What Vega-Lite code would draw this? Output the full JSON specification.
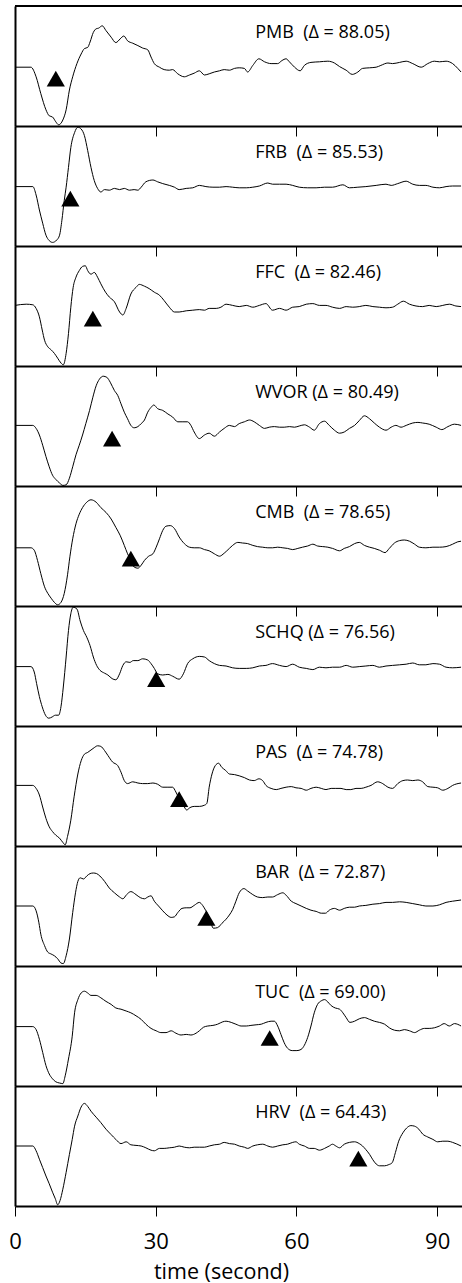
{
  "$schema": "https://vega.github.io/schema/vega-lite/v6.json",
  "background": "white",
  "padding": {"left": 8, "top": 5, "right": 0, "bottom": 35},
  "spacing": 0,
  "bounds": "flush",
  "datasets": {
    "st": [
      {"s": "PMB", "label": "PMB\u00a0 (Δ = 88.05)", "pick": 8.7},
      {"s": "FRB", "label": "FRB\u00a0 (Δ = 85.53)", "pick": 11.8},
      {"s": "FFC", "label": "FFC\u00a0 (Δ = 82.46)", "pick": 16.6},
      {"s": "WVOR", "label": "WVOR (Δ = 80.49)", "pick": 20.7},
      {"s": "CMB", "label": "CMB\u00a0 (Δ = 78.65)", "pick": 24.7},
      {"s": "SCHQ", "label": "SCHQ (Δ = 76.56)", "pick": 30.1},
      {"s": "PAS", "label": "PAS\u00a0 (Δ = 74.78)", "pick": 35.0},
      {"s": "BAR", "label": "BAR\u00a0 (Δ = 72.87)", "pick": 40.8},
      {"s": "TUC", "label": "TUC\u00a0 (Δ = 69.00)", "pick": 54.3},
      {"s": "HRV", "label": "HRV\u00a0 (Δ = 64.43)", "pick": 73.2}
    ],
    "PMB": [{"t":0,"a":-0.02},{"t":3.4,"a":-0.02},{"t":4.5,"a":-0.18},{"t":5.5,"a":-0.46},{"t":6.6,"a":-0.73},{"t":7.3,"a":-0.83},{"t":8.0,"a":-0.85},{"t":8.7,"a":-0.93},{"t":9.3,"a":-0.98},{"t":10.2,"a":-0.90},{"t":10.9,"a":-0.73},{"t":11.6,"a":-0.40},{"t":12.3,"a":-0.18},{"t":13.2,"a":0.04},{"t":14.1,"a":0.20},{"t":14.8,"a":0.29},{"t":15.5,"a":0.31},{"t":16.0,"a":0.40},{"t":16.7,"a":0.56},{"t":17.3,"a":0.62},{"t":17.8,"a":0.63},{"t":18.6,"a":0.67},{"t":19.4,"a":0.59},{"t":20.5,"a":0.48},{"t":21.5,"a":0.39},{"t":22.4,"a":0.45},{"t":23.2,"a":0.50},{"t":24.0,"a":0.42},{"t":25.1,"a":0.38},{"t":26.2,"a":0.34},{"t":27.2,"a":0.30},{"t":28.3,"a":0.27},{"t":29.0,"a":0.15},{"t":29.7,"a":0.04},{"t":30.8,"a":-0.02},{"t":31.8,"a":-0.06},{"t":32.9,"a":-0.07},{"t":33.6,"a":-0.06},{"t":34.7,"a":-0.13},{"t":36.1,"a":-0.18},{"t":37.2,"a":-0.15},{"t":38.2,"a":-0.12},{"t":39.3,"a":-0.08},{"t":40.4,"a":-0.15},{"t":41.4,"a":-0.13},{"t":42.5,"a":-0.10},{"t":43.6,"a":-0.08},{"t":44.6,"a":-0.06},{"t":45.7,"a":-0.07},{"t":46.8,"a":-0.04},{"t":47.8,"a":-0.03},{"t":48.9,"a":-0.04},{"t":49.6,"a":-0.10},{"t":50.7,"a":0.01},{"t":52.0,"a":0.12},{"t":53.2,"a":0.07},{"t":54.6,"a":0.04},{"t":56.0,"a":0.04},{"t":56.9,"a":0.09},{"t":57.8,"a":0.12},{"t":58.5,"a":0.07},{"t":59.6,"a":-0.02},{"t":60.8,"a":-0.08},{"t":61.7,"a":0.01},{"t":63.1,"a":0.06},{"t":64.9,"a":0.07},{"t":66.7,"a":0.08},{"t":68.1,"a":0.05},{"t":69.2,"a":-0.01},{"t":70.6,"a":-0.07},{"t":71.9,"a":-0.14},{"t":73.1,"a":-0.10},{"t":74.1,"a":-0.04},{"t":75.6,"a":-0.03},{"t":77.0,"a":-0.02},{"t":78.0,"a":0.01},{"t":79.5,"a":0.05},{"t":80.5,"a":0.04},{"t":82.0,"a":0.06},{"t":83.4,"a":0.08},{"t":84.8,"a":0.04},{"t":86.6,"a":-0.02},{"t":88.0,"a":0.04},{"t":89.4,"a":0.08},{"t":90.5,"a":0.07},{"t":91.9,"a":0.08},{"t":93.3,"a":0.04},{"t":94.4,"a":-0.04},{"t":95.1,"a":-0.10}],
    "FRB": [{"t":0,"a":-0.01},{"t":3.8,"a":-0.01},{"t":4.5,"a":-0.15},{"t":5.2,"a":-0.40},{"t":5.9,"a":-0.62},{"t":6.6,"a":-0.82},{"t":7.3,"a":-0.91},{"t":8.0,"a":-0.94},{"t":8.9,"a":-0.90},{"t":9.5,"a":-0.82},{"t":10.0,"a":-0.57},{"t":10.5,"a":-0.24},{"t":10.9,"a":-0.02},{"t":11.4,"a":0.31},{"t":11.9,"a":0.64},{"t":12.7,"a":0.89},{"t":13.4,"a":0.98},{"t":14.1,"a":0.95},{"t":14.8,"a":0.84},{"t":15.5,"a":0.59},{"t":16.2,"a":0.31},{"t":16.9,"a":0.09},{"t":17.6,"a":-0.04},{"t":18.3,"a":-0.10},{"t":19.1,"a":-0.06},{"t":20.1,"a":-0.07},{"t":21.2,"a":-0.04},{"t":22.3,"a":-0.06},{"t":23.3,"a":-0.04},{"t":24.4,"a":-0.07},{"t":25.4,"a":-0.06},{"t":26.2,"a":-0.07},{"t":26.9,"a":-0.02},{"t":27.9,"a":0.07},{"t":29.4,"a":0.10},{"t":30.4,"a":0.07},{"t":31.5,"a":0.04},{"t":32.9,"a":0.01},{"t":34.0,"a":-0.02},{"t":35.0,"a":-0.06},{"t":36.5,"a":-0.04},{"t":37.9,"a":-0.03},{"t":39.3,"a":0.01},{"t":40.7,"a":-0.01},{"t":42.2,"a":-0.02},{"t":43.6,"a":-0.02},{"t":45.0,"a":-0.01},{"t":46.4,"a":-0.02},{"t":47.8,"a":-0.03},{"t":49.3,"a":-0.03},{"t":50.7,"a":-0.02},{"t":52.1,"a":0.00},{"t":53.9,"a":0.05},{"t":54.9,"a":0.03},{"t":56.4,"a":0.03},{"t":57.8,"a":0.03},{"t":59.2,"a":0.01},{"t":60.6,"a":-0.02},{"t":62.4,"a":-0.03},{"t":64.2,"a":-0.03},{"t":66.0,"a":-0.02},{"t":67.7,"a":-0.02},{"t":69.9,"a":0.02},{"t":71.3,"a":-0.03},{"t":73.1,"a":-0.02},{"t":74.8,"a":-0.01},{"t":77.0,"a":0.01},{"t":79.1,"a":0.03},{"t":80.2,"a":0.01},{"t":81.6,"a":0.04},{"t":83.4,"a":0.08},{"t":84.8,"a":0.03},{"t":86.2,"a":0.01},{"t":87.6,"a":0.01},{"t":89.1,"a":-0.02},{"t":90.5,"a":-0.03},{"t":91.9,"a":-0.01},{"t":93.3,"a":0.00},{"t":95.1,"a":0.00}],
    "FFC": [{"t":0,"a":0.01},{"t":2.4,"a":0.03},{"t":3.8,"a":0.02},{"t":4.5,"a":-0.04},{"t":5.2,"a":-0.18},{"t":5.8,"a":-0.40},{"t":6.3,"a":-0.57},{"t":7.0,"a":-0.68},{"t":7.7,"a":-0.73},{"t":8.4,"a":-0.79},{"t":9.1,"a":-0.87},{"t":9.8,"a":-0.95},{"t":10.3,"a":-0.98},{"t":10.9,"a":-0.79},{"t":11.4,"a":-0.46},{"t":11.9,"a":-0.02},{"t":12.4,"a":0.31},{"t":13.0,"a":0.48},{"t":13.7,"a":0.59},{"t":14.4,"a":0.66},{"t":15.0,"a":0.67},{"t":15.5,"a":0.59},{"t":16.2,"a":0.53},{"t":16.9,"a":0.56},{"t":17.6,"a":0.48},{"t":18.3,"a":0.37},{"t":19.3,"a":0.23},{"t":20.1,"a":0.15},{"t":21.2,"a":0.07},{"t":22.3,"a":-0.10},{"t":23.0,"a":-0.15},{"t":23.7,"a":-0.04},{"t":24.7,"a":0.20},{"t":25.8,"a":0.31},{"t":26.5,"a":0.36},{"t":27.6,"a":0.33},{"t":28.6,"a":0.29},{"t":29.7,"a":0.23},{"t":30.8,"a":0.18},{"t":31.8,"a":0.09},{"t":32.9,"a":-0.02},{"t":34.0,"a":-0.10},{"t":35.0,"a":-0.10},{"t":36.5,"a":-0.08},{"t":37.9,"a":-0.07},{"t":39.3,"a":-0.06},{"t":40.4,"a":-0.07},{"t":41.4,"a":-0.04},{"t":42.9,"a":-0.04},{"t":43.9,"a":-0.02},{"t":45.0,"a":0.03},{"t":46.4,"a":0.01},{"t":47.8,"a":-0.01},{"t":49.3,"a":0.01},{"t":50.7,"a":-0.02},{"t":52.1,"a":0.01},{"t":53.5,"a":0.04},{"t":54.9,"a":-0.07},{"t":56.4,"a":-0.04},{"t":57.8,"a":-0.07},{"t":59.2,"a":-0.02},{"t":60.6,"a":-0.01},{"t":62.1,"a":0.03},{"t":63.5,"a":0.04},{"t":64.9,"a":0.01},{"t":66.3,"a":0.01},{"t":67.7,"a":-0.02},{"t":69.2,"a":-0.04},{"t":70.6,"a":-0.01},{"t":72.0,"a":-0.02},{"t":73.4,"a":-0.01},{"t":74.8,"a":0.01},{"t":76.3,"a":-0.01},{"t":77.7,"a":-0.02},{"t":79.1,"a":-0.03},{"t":80.5,"a":-0.02},{"t":81.6,"a":0.03},{"t":82.8,"a":0.08},{"t":84.1,"a":0.03},{"t":85.5,"a":0.00},{"t":86.9,"a":-0.01},{"t":88.3,"a":0.01},{"t":89.8,"a":-0.01},{"t":91.2,"a":0.01},{"t":92.6,"a":0.03},{"t":94.0,"a":0.00},{"t":95.1,"a":-0.01}],
    "WVOR": [{"t":0,"a":0.01},{"t":3.8,"a":0.01},{"t":4.5,"a":-0.04},{"t":5.2,"a":-0.15},{"t":5.9,"a":-0.32},{"t":6.6,"a":-0.51},{"t":7.3,"a":-0.68},{"t":8.0,"a":-0.82},{"t":8.7,"a":-0.89},{"t":9.5,"a":-0.95},{"t":10.2,"a":-0.99},{"t":10.9,"a":-0.98},{"t":11.6,"a":-0.87},{"t":12.3,"a":-0.68},{"t":13.0,"a":-0.48},{"t":13.7,"a":-0.32},{"t":14.4,"a":-0.15},{"t":15.1,"a":0.04},{"t":15.9,"a":0.26},{"t":16.6,"a":0.48},{"t":17.3,"a":0.67},{"t":18.0,"a":0.78},{"t":18.8,"a":0.83},{"t":19.6,"a":0.81},{"t":20.3,"a":0.73},{"t":21.2,"a":0.59},{"t":21.9,"a":0.51},{"t":22.6,"a":0.37},{"t":23.3,"a":0.23},{"t":24.0,"a":0.12},{"t":24.7,"a":0.01},{"t":25.4,"a":-0.03},{"t":26.2,"a":-0.01},{"t":26.9,"a":0.04},{"t":27.6,"a":0.10},{"t":28.3,"a":0.23},{"t":29.0,"a":0.31},{"t":29.6,"a":0.35},{"t":30.4,"a":0.29},{"t":31.5,"a":0.26},{"t":32.6,"a":0.20},{"t":33.6,"a":0.15},{"t":34.7,"a":0.07},{"t":35.8,"a":0.07},{"t":36.8,"a":0.07},{"t":37.5,"a":0.01},{"t":38.2,"a":-0.10},{"t":39.3,"a":-0.21},{"t":40.4,"a":-0.15},{"t":41.4,"a":-0.12},{"t":42.5,"a":-0.17},{"t":43.6,"a":-0.10},{"t":44.6,"a":-0.04},{"t":45.7,"a":0.01},{"t":46.8,"a":-0.01},{"t":47.8,"a":0.04},{"t":48.9,"a":0.07},{"t":50.0,"a":0.10},{"t":51.0,"a":0.07},{"t":52.1,"a":0.01},{"t":53.2,"a":-0.04},{"t":54.2,"a":-0.02},{"t":55.3,"a":-0.01},{"t":56.4,"a":-0.02},{"t":57.4,"a":-0.02},{"t":58.5,"a":-0.01},{"t":59.6,"a":-0.02},{"t":60.6,"a":0.00},{"t":61.7,"a":0.02},{"t":62.8,"a":-0.02},{"t":63.8,"a":-0.07},{"t":64.9,"a":0.04},{"t":66.0,"a":0.08},{"t":67.0,"a":0.01},{"t":68.1,"a":-0.07},{"t":69.2,"a":-0.12},{"t":70.2,"a":-0.10},{"t":71.3,"a":-0.04},{"t":72.4,"a":0.01},{"t":73.4,"a":0.09},{"t":74.5,"a":0.17},{"t":75.6,"a":0.12},{"t":76.6,"a":0.05},{"t":77.7,"a":-0.02},{"t":79.1,"a":-0.07},{"t":80.2,"a":-0.02},{"t":81.2,"a":0.01},{"t":82.3,"a":-0.02},{"t":83.4,"a":0.01},{"t":84.8,"a":0.05},{"t":85.9,"a":0.06},{"t":86.9,"a":0.05},{"t":88.3,"a":0.03},{"t":89.8,"a":-0.02},{"t":91.0,"a":-0.06},{"t":92.3,"a":-0.01},{"t":93.7,"a":0.03},{"t":95.1,"a":0.01}],
    "CMB": [{"t":0,"a":-0.03},{"t":3.4,"a":-0.03},{"t":4.1,"a":-0.07},{"t":4.8,"a":-0.24},{"t":5.5,"a":-0.46},{"t":6.3,"a":-0.68},{"t":7.0,"a":-0.79},{"t":7.7,"a":-0.87},{"t":8.4,"a":-0.94},{"t":9.1,"a":-0.98},{"t":9.8,"a":-0.94},{"t":10.5,"a":-0.79},{"t":11.2,"a":-0.48},{"t":11.7,"a":-0.18},{"t":12.3,"a":0.12},{"t":13.0,"a":0.37},{"t":13.7,"a":0.53},{"t":14.4,"a":0.64},{"t":15.3,"a":0.73},{"t":16.2,"a":0.77},{"t":17.3,"a":0.73},{"t":18.3,"a":0.64},{"t":19.4,"a":0.56},{"t":20.5,"a":0.45},{"t":21.5,"a":0.31},{"t":22.4,"a":0.18},{"t":23.3,"a":0.01},{"t":24.0,"a":-0.13},{"t":24.7,"a":-0.24},{"t":25.4,"a":-0.35},{"t":26.2,"a":-0.37},{"t":26.9,"a":-0.32},{"t":27.6,"a":-0.24},{"t":28.5,"a":-0.17},{"t":29.4,"a":-0.13},{"t":30.1,"a":-0.02},{"t":30.8,"a":0.12},{"t":31.5,"a":0.26},{"t":32.2,"a":0.33},{"t":33.1,"a":0.34},{"t":34.0,"a":0.29},{"t":35.0,"a":0.15},{"t":36.1,"a":0.04},{"t":37.2,"a":-0.02},{"t":38.2,"a":-0.03},{"t":39.3,"a":-0.03},{"t":40.4,"a":-0.06},{"t":41.4,"a":-0.08},{"t":42.5,"a":-0.13},{"t":43.6,"a":-0.17},{"t":44.6,"a":-0.12},{"t":45.7,"a":-0.04},{"t":46.4,"a":0.01},{"t":47.5,"a":0.06},{"t":48.5,"a":0.05},{"t":49.6,"a":0.04},{"t":50.7,"a":0.01},{"t":51.7,"a":-0.01},{"t":52.8,"a":-0.02},{"t":53.9,"a":-0.03},{"t":54.9,"a":-0.03},{"t":56.0,"a":-0.02},{"t":57.1,"a":-0.03},{"t":58.1,"a":-0.04},{"t":59.2,"a":-0.06},{"t":60.3,"a":-0.04},{"t":61.3,"a":-0.02},{"t":62.4,"a":0.00},{"t":63.5,"a":0.03},{"t":64.5,"a":0.00},{"t":65.6,"a":-0.01},{"t":66.7,"a":-0.02},{"t":67.7,"a":-0.04},{"t":69.2,"a":-0.08},{"t":70.2,"a":-0.04},{"t":71.3,"a":-0.01},{"t":72.4,"a":0.04},{"t":73.4,"a":0.06},{"t":74.5,"a":0.01},{"t":75.6,"a":-0.02},{"t":76.6,"a":-0.04},{"t":77.7,"a":-0.07},{"t":78.9,"a":-0.11},{"t":79.8,"a":-0.04},{"t":80.9,"a":0.05},{"t":82.0,"a":0.09},{"t":83.0,"a":0.10},{"t":84.1,"a":0.08},{"t":85.2,"a":0.03},{"t":86.2,"a":-0.02},{"t":87.6,"a":-0.03},{"t":89.1,"a":-0.02},{"t":90.5,"a":-0.02},{"t":91.9,"a":-0.01},{"t":93.3,"a":0.03},{"t":94.4,"a":0.07},{"t":95.1,"a":0.08}],
    "SCHQ": [{"t":0,"a":-0.01},{"t":3.4,"a":-0.01},{"t":4.1,"a":-0.10},{"t":4.6,"a":-0.29},{"t":5.2,"a":-0.51},{"t":5.8,"a":-0.68},{"t":6.5,"a":-0.82},{"t":7.2,"a":-0.87},{"t":7.9,"a":-0.85},{"t":8.6,"a":-0.82},{"t":9.3,"a":-0.82},{"t":9.8,"a":-0.68},{"t":10.3,"a":-0.35},{"t":10.9,"a":0.15},{"t":11.4,"a":0.59},{"t":11.9,"a":0.87},{"t":12.4,"a":0.98},{"t":13.2,"a":0.95},{"t":13.9,"a":0.75},{"t":14.6,"a":0.59},{"t":15.3,"a":0.48},{"t":16.0,"a":0.34},{"t":16.7,"a":0.15},{"t":17.4,"a":0.01},{"t":18.1,"a":-0.07},{"t":19.1,"a":-0.12},{"t":19.8,"a":-0.15},{"t":20.7,"a":-0.21},{"t":21.5,"a":-0.23},{"t":22.3,"a":-0.13},{"t":23.0,"a":0.01},{"t":23.7,"a":0.07},{"t":24.5,"a":0.06},{"t":25.2,"a":0.09},{"t":26.2,"a":0.09},{"t":27.2,"a":0.12},{"t":28.3,"a":0.10},{"t":29.0,"a":0.04},{"t":29.7,"a":-0.04},{"t":30.4,"a":-0.13},{"t":31.5,"a":-0.15},{"t":32.6,"a":-0.14},{"t":33.6,"a":-0.17},{"t":35.0,"a":-0.22},{"t":35.9,"a":-0.13},{"t":36.8,"a":0.04},{"t":37.9,"a":0.12},{"t":39.3,"a":0.16},{"t":40.4,"a":0.15},{"t":41.4,"a":0.09},{"t":42.5,"a":0.04},{"t":43.6,"a":0.01},{"t":45.0,"a":0.00},{"t":46.4,"a":-0.03},{"t":47.8,"a":-0.04},{"t":49.3,"a":-0.04},{"t":50.7,"a":-0.03},{"t":52.1,"a":0.00},{"t":53.5,"a":0.01},{"t":54.9,"a":0.04},{"t":56.4,"a":0.01},{"t":57.8,"a":-0.01},{"t":59.2,"a":0.03},{"t":60.6,"a":-0.02},{"t":62.1,"a":-0.04},{"t":63.5,"a":-0.06},{"t":64.9,"a":-0.02},{"t":66.3,"a":-0.03},{"t":67.7,"a":-0.02},{"t":69.2,"a":-0.02},{"t":70.6,"a":0.01},{"t":72.0,"a":-0.02},{"t":73.4,"a":-0.01},{"t":74.8,"a":0.00},{"t":76.3,"a":0.01},{"t":77.7,"a":-0.02},{"t":79.1,"a":0.00},{"t":80.5,"a":0.01},{"t":82.0,"a":0.02},{"t":83.4,"a":0.03},{"t":84.8,"a":0.05},{"t":86.2,"a":0.02},{"t":87.6,"a":0.02},{"t":89.1,"a":0.04},{"t":90.5,"a":0.03},{"t":91.9,"a":-0.02},{"t":93.3,"a":-0.03},{"t":95.1,"a":-0.02}],
    "PAS": [{"t":0,"a":0.01},{"t":3.8,"a":0.01},{"t":4.5,"a":-0.04},{"t":5.2,"a":-0.15},{"t":5.9,"a":-0.35},{"t":6.6,"a":-0.54},{"t":7.3,"a":-0.68},{"t":8.0,"a":-0.76},{"t":8.7,"a":-0.82},{"t":9.5,"a":-0.87},{"t":10.2,"a":-0.94},{"t":10.7,"a":-0.98},{"t":11.2,"a":-0.84},{"t":11.9,"a":-0.57},{"t":12.6,"a":-0.18},{"t":13.4,"a":0.20},{"t":14.1,"a":0.42},{"t":14.8,"a":0.53},{"t":15.5,"a":0.56},{"t":16.2,"a":0.60},{"t":16.9,"a":0.64},{"t":17.6,"a":0.67},{"t":18.3,"a":0.66},{"t":19.1,"a":0.59},{"t":19.8,"a":0.51},{"t":20.8,"a":0.40},{"t":21.9,"a":0.34},{"t":22.6,"a":0.23},{"t":23.3,"a":0.09},{"t":24.0,"a":0.04},{"t":25.1,"a":0.07},{"t":26.2,"a":0.05},{"t":27.2,"a":0.04},{"t":28.3,"a":0.04},{"t":29.4,"a":0.05},{"t":30.4,"a":0.03},{"t":31.5,"a":-0.02},{"t":32.6,"a":-0.02},{"t":33.6,"a":-0.02},{"t":34.3,"a":-0.10},{"t":35.0,"a":-0.21},{"t":35.9,"a":-0.32},{"t":36.6,"a":-0.40},{"t":37.3,"a":-0.36},{"t":38.2,"a":-0.34},{"t":39.3,"a":-0.34},{"t":40.4,"a":-0.32},{"t":40.9,"a":-0.29},{"t":41.4,"a":-0.02},{"t":42.0,"a":0.20},{"t":42.7,"a":0.34},{"t":43.4,"a":0.38},{"t":44.1,"a":0.31},{"t":44.9,"a":0.26},{"t":45.7,"a":0.20},{"t":46.8,"a":0.19},{"t":47.8,"a":0.17},{"t":48.9,"a":0.14},{"t":50.0,"a":0.10},{"t":51.0,"a":0.09},{"t":52.0,"a":0.12},{"t":52.8,"a":0.09},{"t":53.5,"a":0.01},{"t":54.6,"a":-0.04},{"t":55.7,"a":-0.06},{"t":56.7,"a":-0.04},{"t":57.8,"a":-0.02},{"t":58.9,"a":-0.01},{"t":59.9,"a":-0.03},{"t":61.0,"a":-0.04},{"t":62.1,"a":-0.07},{"t":63.1,"a":-0.04},{"t":64.2,"a":-0.02},{"t":65.3,"a":-0.04},{"t":66.3,"a":-0.06},{"t":67.4,"a":-0.04},{"t":68.4,"a":-0.04},{"t":69.5,"a":-0.04},{"t":70.6,"a":-0.06},{"t":71.6,"a":-0.06},{"t":72.7,"a":-0.04},{"t":73.8,"a":-0.04},{"t":74.8,"a":-0.02},{"t":75.9,"a":0.01},{"t":77.3,"a":0.07},{"t":78.4,"a":0.04},{"t":79.5,"a":-0.02},{"t":80.5,"a":-0.04},{"t":81.6,"a":0.04},{"t":82.7,"a":0.09},{"t":83.7,"a":0.10},{"t":84.8,"a":0.09},{"t":85.9,"a":0.10},{"t":86.9,"a":0.07},{"t":88.0,"a":-0.01},{"t":89.1,"a":-0.02},{"t":90.1,"a":-0.03},{"t":91.2,"a":-0.07},{"t":92.3,"a":-0.04},{"t":93.3,"a":0.01},{"t":95.1,"a":0.05}],
    "BAR": [{"t":0,"a":0.00},{"t":3.8,"a":0.00},{"t":4.5,"a":-0.08},{"t":5.1,"a":-0.28},{"t":5.5,"a":-0.47},{"t":6.3,"a":-0.66},{"t":7.0,"a":-0.77},{"t":7.7,"a":-0.80},{"t":8.4,"a":-0.83},{"t":9.1,"a":-0.88},{"t":9.8,"a":-0.95},{"t":10.3,"a":-0.96},{"t":10.9,"a":-0.83},{"t":11.6,"a":-0.55},{"t":12.3,"a":-0.11},{"t":12.9,"a":0.22},{"t":13.4,"a":0.41},{"t":13.9,"a":0.47},{"t":14.6,"a":0.45},{"t":15.3,"a":0.50},{"t":16.0,"a":0.54},{"t":16.7,"a":0.55},{"t":17.4,"a":0.54},{"t":18.1,"a":0.50},{"t":19.1,"a":0.41},{"t":20.1,"a":0.30},{"t":21.2,"a":0.22},{"t":22.3,"a":0.15},{"t":23.0,"a":0.12},{"t":23.8,"a":0.19},{"t":24.7,"a":0.24},{"t":25.8,"a":0.19},{"t":26.7,"a":0.14},{"t":27.6,"a":0.12},{"t":28.3,"a":0.15},{"t":29.0,"a":0.17},{"t":29.7,"a":0.08},{"t":30.6,"a":0.00},{"t":31.5,"a":-0.08},{"t":32.4,"a":-0.15},{"t":33.3,"a":-0.19},{"t":34.0,"a":-0.18},{"t":34.7,"a":-0.11},{"t":35.6,"a":-0.04},{"t":36.5,"a":-0.03},{"t":37.3,"a":-0.03},{"t":38.2,"a":0.01},{"t":39.3,"a":0.06},{"t":40.0,"a":0.01},{"t":40.7,"a":-0.08},{"t":41.4,"a":-0.19},{"t":42.3,"a":-0.37},{"t":43.2,"a":-0.36},{"t":44.1,"a":-0.29},{"t":45.0,"a":-0.22},{"t":45.7,"a":-0.15},{"t":46.4,"a":-0.06},{"t":47.1,"a":0.08},{"t":47.8,"a":0.22},{"t":48.8,"a":0.29},{"t":49.6,"a":0.25},{"t":50.7,"a":0.19},{"t":51.7,"a":0.15},{"t":52.8,"a":0.14},{"t":53.9,"a":0.15},{"t":54.9,"a":0.15},{"t":56.0,"a":0.19},{"t":57.1,"a":0.22},{"t":57.8,"a":0.18},{"t":58.9,"a":0.08},{"t":59.9,"a":0.04},{"t":61.0,"a":0.00},{"t":62.1,"a":-0.04},{"t":63.1,"a":-0.07},{"t":64.2,"a":-0.09},{"t":65.3,"a":-0.12},{"t":66.2,"a":-0.12},{"t":67.0,"a":-0.07},{"t":68.1,"a":-0.04},{"t":69.2,"a":-0.07},{"t":70.2,"a":-0.04},{"t":71.3,"a":-0.02},{"t":72.4,"a":-0.02},{"t":73.4,"a":0.00},{"t":74.8,"a":0.01},{"t":76.3,"a":0.03},{"t":77.7,"a":0.04},{"t":79.1,"a":0.06},{"t":80.5,"a":0.06},{"t":82.0,"a":0.07},{"t":83.4,"a":0.06},{"t":84.8,"a":0.04},{"t":86.2,"a":0.02},{"t":87.6,"a":0.00},{"t":89.1,"a":0.00},{"t":90.5,"a":0.02},{"t":91.9,"a":0.06},{"t":93.3,"a":0.08},{"t":95.1,"a":0.10}],
    "TUC": [{"t":0,"a":-0.01},{"t":3.8,"a":-0.01},{"t":4.5,"a":-0.06},{"t":5.2,"a":-0.22},{"t":5.9,"a":-0.44},{"t":6.6,"a":-0.66},{"t":7.3,"a":-0.80},{"t":8.0,"a":-0.88},{"t":8.7,"a":-0.93},{"t":9.5,"a":-0.95},{"t":10.2,"a":-0.96},{"t":10.7,"a":-0.83},{"t":11.4,"a":-0.55},{"t":12.2,"a":-0.17},{"t":12.7,"a":0.22},{"t":13.4,"a":0.44},{"t":14.1,"a":0.55},{"t":14.8,"a":0.58},{"t":15.5,"a":0.55},{"t":16.2,"a":0.51},{"t":17.3,"a":0.51},{"t":18.3,"a":0.47},{"t":19.4,"a":0.41},{"t":20.5,"a":0.36},{"t":21.5,"a":0.30},{"t":22.6,"a":0.28},{"t":23.7,"a":0.25},{"t":24.7,"a":0.22},{"t":25.8,"a":0.17},{"t":26.9,"a":0.11},{"t":27.9,"a":0.03},{"t":29.0,"a":-0.04},{"t":30.1,"a":-0.08},{"t":31.1,"a":-0.11},{"t":32.2,"a":-0.11},{"t":33.3,"a":-0.08},{"t":34.3,"a":-0.12},{"t":35.4,"a":-0.15},{"t":36.5,"a":-0.14},{"t":37.5,"a":-0.15},{"t":38.6,"a":-0.12},{"t":39.3,"a":-0.08},{"t":40.2,"a":-0.02},{"t":41.1,"a":0.00},{"t":42.2,"a":0.01},{"t":43.2,"a":0.03},{"t":44.3,"a":0.07},{"t":45.0,"a":0.08},{"t":46.1,"a":0.06},{"t":47.1,"a":0.03},{"t":48.2,"a":0.00},{"t":49.3,"a":0.00},{"t":50.3,"a":0.01},{"t":51.4,"a":0.02},{"t":52.5,"a":0.03},{"t":53.5,"a":0.06},{"t":54.6,"a":0.08},{"t":55.3,"a":0.08},{"t":56.0,"a":0.00},{"t":56.7,"a":-0.14},{"t":57.4,"a":-0.28},{"t":58.1,"a":-0.37},{"t":59.1,"a":-0.41},{"t":60.1,"a":-0.41},{"t":61.0,"a":-0.39},{"t":61.7,"a":-0.32},{"t":62.4,"a":-0.19},{"t":63.1,"a":0.00},{"t":63.8,"a":0.22},{"t":64.5,"a":0.36},{"t":65.3,"a":0.42},{"t":66.0,"a":0.44},{"t":66.7,"a":0.40},{"t":67.4,"a":0.34},{"t":68.3,"a":0.30},{"t":69.2,"a":0.28},{"t":69.9,"a":0.22},{"t":70.6,"a":0.14},{"t":71.4,"a":0.06},{"t":72.4,"a":0.08},{"t":73.4,"a":0.12},{"t":74.5,"a":0.14},{"t":75.6,"a":0.11},{"t":76.6,"a":0.08},{"t":77.7,"a":0.06},{"t":78.8,"a":0.03},{"t":79.8,"a":-0.03},{"t":80.9,"a":-0.07},{"t":82.0,"a":-0.08},{"t":83.0,"a":-0.06},{"t":84.1,"a":-0.08},{"t":85.2,"a":-0.11},{"t":86.2,"a":-0.07},{"t":87.3,"a":-0.04},{"t":88.3,"a":-0.04},{"t":89.4,"a":-0.03},{"t":90.5,"a":0.00},{"t":91.5,"a":0.04},{"t":92.6,"a":0.00},{"t":93.7,"a":0.04},{"t":95.1,"a":0.00}],
    "HRV": [{"t":0,"a":0.00},{"t":3.8,"a":0.00},{"t":4.5,"a":-0.08},{"t":5.2,"a":-0.22},{"t":5.9,"a":-0.36},{"t":6.6,"a":-0.50},{"t":7.3,"a":-0.63},{"t":8.0,"a":-0.77},{"t":8.6,"a":-0.88},{"t":9.1,"a":-0.98},{"t":9.6,"a":-0.91},{"t":10.2,"a":-0.72},{"t":10.9,"a":-0.44},{"t":11.6,"a":-0.14},{"t":12.2,"a":0.11},{"t":12.7,"a":0.33},{"t":13.4,"a":0.50},{"t":14.1,"a":0.65},{"t":14.8,"a":0.71},{"t":15.5,"a":0.66},{"t":16.2,"a":0.58},{"t":17.3,"a":0.48},{"t":18.3,"a":0.39},{"t":19.4,"a":0.28},{"t":20.5,"a":0.19},{"t":21.5,"a":0.11},{"t":22.6,"a":0.04},{"t":23.7,"a":0.07},{"t":24.7,"a":0.02},{"t":25.8,"a":0.01},{"t":26.9,"a":0.00},{"t":27.9,"a":-0.03},{"t":29.0,"a":-0.07},{"t":29.7,"a":-0.08},{"t":30.8,"a":-0.04},{"t":31.8,"a":-0.04},{"t":32.9,"a":-0.03},{"t":34.0,"a":-0.02},{"t":35.0,"a":0.00},{"t":36.1,"a":-0.02},{"t":37.2,"a":-0.03},{"t":38.2,"a":-0.02},{"t":39.3,"a":-0.02},{"t":40.4,"a":-0.02},{"t":41.4,"a":0.00},{"t":42.5,"a":0.02},{"t":43.6,"a":0.03},{"t":44.6,"a":0.06},{"t":45.7,"a":0.04},{"t":46.8,"a":0.03},{"t":47.8,"a":0.00},{"t":48.9,"a":-0.02},{"t":49.6,"a":-0.04},{"t":50.7,"a":0.00},{"t":51.7,"a":0.02},{"t":52.8,"a":0.03},{"t":53.9,"a":0.00},{"t":54.9,"a":-0.02},{"t":56.0,"a":0.00},{"t":57.1,"a":0.02},{"t":58.1,"a":0.03},{"t":59.2,"a":0.06},{"t":59.9,"a":0.07},{"t":60.6,"a":0.03},{"t":61.7,"a":0.00},{"t":62.8,"a":-0.04},{"t":63.8,"a":-0.04},{"t":64.9,"a":-0.07},{"t":66.0,"a":-0.04},{"t":67.0,"a":0.00},{"t":67.7,"a":0.03},{"t":68.4,"a":0.00},{"t":69.2,"a":-0.03},{"t":70.2,"a":0.03},{"t":71.3,"a":0.06},{"t":72.4,"a":0.07},{"t":73.4,"a":0.04},{"t":74.1,"a":0.00},{"t":74.8,"a":-0.06},{"t":75.6,"a":-0.14},{"t":76.3,"a":-0.23},{"t":77.0,"a":-0.30},{"t":77.7,"a":-0.33},{"t":78.8,"a":-0.33},{"t":79.7,"a":-0.31},{"t":80.4,"a":-0.28},{"t":81.1,"a":-0.11},{"t":81.8,"a":0.08},{"t":82.7,"a":0.22},{"t":83.5,"a":0.30},{"t":84.4,"a":0.34},{"t":85.2,"a":0.33},{"t":86.1,"a":0.28},{"t":86.9,"a":0.20},{"t":88.0,"a":0.15},{"t":89.1,"a":0.11},{"t":90.1,"a":0.07},{"t":91.2,"a":0.08},{"t":92.3,"a":0.08},{"t":93.3,"a":0.06},{"t":95.1,"a":0.00}]
  },
  "vconcat": [
    {"width": 447, "height": 120, "layer": [
      {"data": {"values": [{}]}, "mark": "rule", "encoding": {"y": {"datum": 1, "type": "quantitative", "title": null}}},
      {"data": {"name": "PMB"}, "mark": "line", "encoding": {"x": {"field": "t", "type": "quantitative", "scale": {"domain": [0, 95.3], "nice": false, "zero": false}, "axis": {"values": [0, 30, 60, 90], "title": null}}, "y": {"field": "a", "type": "quantitative", "scale": {"domain": [-1, 1], "nice": false}, "axis": {"title": null}}}},
      {"data": {"name": "st"}, "transform": [{"filter": {"field": "s", "equal": "PMB"}}], "mark": "point", "encoding": {"x": {"field": "pick", "type": "quantitative", "title": null}, "y": {"datum": -0.21, "type": "quantitative", "title": null}}},
      {"data": {"name": "st"}, "transform": [{"filter": {"field": "s", "equal": "PMB"}}], "mark": "text", "encoding": {"x": {"datum": 51.2, "type": "quantitative", "title": null}, "y": {"datum": 0.47, "type": "quantitative", "title": null}, "text": {"field": "label"}}}
    ]},
    {"width": 447, "height": 120, "layer": [
      {"data": {"name": "FRB"}, "mark": "line", "encoding": {"x": {"field": "t", "type": "quantitative", "scale": {"domain": [0, 95.3], "nice": false, "zero": false}, "axis": {"values": [0, 30, 60, 90], "title": null}}, "y": {"field": "a", "type": "quantitative", "scale": {"domain": [-1, 1], "nice": false}, "axis": {"title": null}}}},
      {"data": {"name": "st"}, "transform": [{"filter": {"field": "s", "equal": "FRB"}}], "mark": "point", "encoding": {"x": {"field": "pick", "type": "quantitative", "title": null}, "y": {"datum": -0.21, "type": "quantitative", "title": null}}},
      {"data": {"name": "st"}, "transform": [{"filter": {"field": "s", "equal": "FRB"}}], "mark": "text", "encoding": {"x": {"datum": 51.2, "type": "quantitative", "title": null}, "y": {"datum": 0.47, "type": "quantitative", "title": null}, "text": {"field": "label"}}}
    ]},
    {"width": 447, "height": 120, "layer": [
      {"data": {"name": "FFC"}, "mark": "line", "encoding": {"x": {"field": "t", "type": "quantitative", "scale": {"domain": [0, 95.3], "nice": false, "zero": false}, "axis": {"values": [0, 30, 60, 90], "title": null}}, "y": {"field": "a", "type": "quantitative", "scale": {"domain": [-1, 1], "nice": false}, "axis": {"title": null}}}},
      {"data": {"name": "st"}, "transform": [{"filter": {"field": "s", "equal": "FFC"}}], "mark": "point", "encoding": {"x": {"field": "pick", "type": "quantitative", "title": null}, "y": {"datum": -0.21, "type": "quantitative", "title": null}}},
      {"data": {"name": "st"}, "transform": [{"filter": {"field": "s", "equal": "FFC"}}], "mark": "text", "encoding": {"x": {"datum": 51.2, "type": "quantitative", "title": null}, "y": {"datum": 0.47, "type": "quantitative", "title": null}, "text": {"field": "label"}}}
    ]},
    {"width": 447, "height": 120, "layer": [
      {"data": {"name": "WVOR"}, "mark": "line", "encoding": {"x": {"field": "t", "type": "quantitative", "scale": {"domain": [0, 95.3], "nice": false, "zero": false}, "axis": {"values": [0, 30, 60, 90], "title": null}}, "y": {"field": "a", "type": "quantitative", "scale": {"domain": [-1, 1], "nice": false}, "axis": {"title": null}}}},
      {"data": {"name": "st"}, "transform": [{"filter": {"field": "s", "equal": "WVOR"}}], "mark": "point", "encoding": {"x": {"field": "pick", "type": "quantitative", "title": null}, "y": {"datum": -0.21, "type": "quantitative", "title": null}}},
      {"data": {"name": "st"}, "transform": [{"filter": {"field": "s", "equal": "WVOR"}}], "mark": "text", "encoding": {"x": {"datum": 51.2, "type": "quantitative", "title": null}, "y": {"datum": 0.47, "type": "quantitative", "title": null}, "text": {"field": "label"}}}
    ]},
    {"width": 447, "height": 120, "layer": [
      {"data": {"name": "CMB"}, "mark": "line", "encoding": {"x": {"field": "t", "type": "quantitative", "scale": {"domain": [0, 95.3], "nice": false, "zero": false}, "axis": {"values": [0, 30, 60, 90], "title": null}}, "y": {"field": "a", "type": "quantitative", "scale": {"domain": [-1, 1], "nice": false}, "axis": {"title": null}}}},
      {"data": {"name": "st"}, "transform": [{"filter": {"field": "s", "equal": "CMB"}}], "mark": "point", "encoding": {"x": {"field": "pick", "type": "quantitative", "title": null}, "y": {"datum": -0.21, "type": "quantitative", "title": null}}},
      {"data": {"name": "st"}, "transform": [{"filter": {"field": "s", "equal": "CMB"}}], "mark": "text", "encoding": {"x": {"datum": 51.2, "type": "quantitative", "title": null}, "y": {"datum": 0.47, "type": "quantitative", "title": null}, "text": {"field": "label"}}}
    ]},
    {"width": 447, "height": 120, "layer": [
      {"data": {"name": "SCHQ"}, "mark": "line", "encoding": {"x": {"field": "t", "type": "quantitative", "scale": {"domain": [0, 95.3], "nice": false, "zero": false}, "axis": {"values": [0, 30, 60, 90], "title": null}}, "y": {"field": "a", "type": "quantitative", "scale": {"domain": [-1, 1], "nice": false}, "axis": {"title": null}}}},
      {"data": {"name": "st"}, "transform": [{"filter": {"field": "s", "equal": "SCHQ"}}], "mark": "point", "encoding": {"x": {"field": "pick", "type": "quantitative", "title": null}, "y": {"datum": -0.22, "type": "quantitative", "title": null}}},
      {"data": {"name": "st"}, "transform": [{"filter": {"field": "s", "equal": "SCHQ"}}], "mark": "text", "encoding": {"x": {"datum": 51.2, "type": "quantitative", "title": null}, "y": {"datum": 0.47, "type": "quantitative", "title": null}, "text": {"field": "label"}}}
    ]},
    {"width": 447, "height": 120, "layer": [
      {"data": {"name": "PAS"}, "mark": "line", "encoding": {"x": {"field": "t", "type": "quantitative", "scale": {"domain": [0, 95.3], "nice": false, "zero": false}, "axis": {"values": [0, 30, 60, 90], "title": null}}, "y": {"field": "a", "type": "quantitative", "scale": {"domain": [-1, 1], "nice": false}, "axis": {"title": null}}}},
      {"data": {"name": "st"}, "transform": [{"filter": {"field": "s", "equal": "PAS"}}], "mark": "point", "encoding": {"x": {"field": "pick", "type": "quantitative", "title": null}, "y": {"datum": -0.22, "type": "quantitative", "title": null}}},
      {"data": {"name": "st"}, "transform": [{"filter": {"field": "s", "equal": "PAS"}}], "mark": "text", "encoding": {"x": {"datum": 51.2, "type": "quantitative", "title": null}, "y": {"datum": 0.47, "type": "quantitative", "title": null}, "text": {"field": "label"}}}
    ]},
    {"width": 447, "height": 120, "layer": [
      {"data": {"name": "BAR"}, "mark": "line", "encoding": {"x": {"field": "t", "type": "quantitative", "scale": {"domain": [0, 95.3], "nice": false, "zero": false}, "axis": {"values": [0, 30, 60, 90], "title": null}}, "y": {"field": "a", "type": "quantitative", "scale": {"domain": [-1, 1], "nice": false}, "axis": {"title": null}}}},
      {"data": {"name": "st"}, "transform": [{"filter": {"field": "s", "equal": "BAR"}}], "mark": "point", "encoding": {"x": {"field": "pick", "type": "quantitative", "title": null}, "y": {"datum": -0.2, "type": "quantitative", "title": null}}},
      {"data": {"name": "st"}, "transform": [{"filter": {"field": "s", "equal": "BAR"}}], "mark": "text", "encoding": {"x": {"datum": 51.2, "type": "quantitative", "title": null}, "y": {"datum": 0.47, "type": "quantitative", "title": null}, "text": {"field": "label"}}}
    ]},
    {"width": 447, "height": 120, "layer": [
      {"data": {"name": "TUC"}, "mark": "line", "encoding": {"x": {"field": "t", "type": "quantitative", "scale": {"domain": [0, 95.3], "nice": false, "zero": false}, "axis": {"values": [0, 30, 60, 90], "title": null}}, "y": {"field": "a", "type": "quantitative", "scale": {"domain": [-1, 1], "nice": false}, "axis": {"title": null}}}},
      {"data": {"name": "st"}, "transform": [{"filter": {"field": "s", "equal": "TUC"}}], "mark": "point", "encoding": {"x": {"field": "pick", "type": "quantitative", "title": null}, "y": {"datum": -0.2, "type": "quantitative", "title": null}}},
      {"data": {"name": "st"}, "transform": [{"filter": {"field": "s", "equal": "TUC"}}], "mark": "text", "encoding": {"x": {"datum": 51.2, "type": "quantitative", "title": null}, "y": {"datum": 0.47, "type": "quantitative", "title": null}, "text": {"field": "label"}}}
    ]},
    {"width": 447, "height": 120, "layer": [
      {"data": {"name": "HRV"}, "mark": "line", "encoding": {"x": {"field": "t", "type": "quantitative", "title": "time (second)", "scale": {"domain": [0, 95.3], "nice": false, "zero": false}, "axis": {"values": [0, 30, 60, 90], "labels": true, "labelFlush": false, "labelFontSize": 22, "labelBaseline": "alphabetic", "labelPadding": 32, "titleFontSize": 21.5, "titleX": 206, "titleY": 72, "titleBaseline": "alphabetic", "titleAlign": "center"}}, "y": {"field": "a", "type": "quantitative", "scale": {"domain": [-1, 1], "nice": false}, "axis": {"title": null}}}},
      {"data": {"name": "st"}, "transform": [{"filter": {"field": "s", "equal": "HRV"}}], "mark": "point", "encoding": {"x": {"field": "pick", "type": "quantitative", "title": "time (second)"}, "y": {"datum": -0.21, "type": "quantitative", "title": null}}},
      {"data": {"name": "st"}, "transform": [{"filter": {"field": "s", "equal": "HRV"}}], "mark": "text", "encoding": {"x": {"datum": 51.2, "type": "quantitative", "title": "time (second)"}, "y": {"datum": 0.47, "type": "quantitative", "title": null}, "text": {"field": "label"}}}
    ]}
  ],
  "config": {
    "view": {"stroke": null},
    "axisX": {"domainWidth": 2, "domainColor": "black", "tickColor": "black", "tickWidth": 1, "tickSize": 10, "grid": false, "labels": false, "labelFont": "Open Sans", "labelColor": "black", "titleFont": "Open Sans", "titleColor": "black", "titleFontWeight": "normal"},
    "axisY": {"domainWidth": 2, "domainColor": "black", "ticks": false, "labels": false, "grid": false},
    "line": {"color": "black", "strokeWidth": 1, "interpolate": "monotone"},
    "point": {"shape": "triangle-up", "filled": true, "size": 330, "color": "black", "opacity": 1},
    "text": {"font": "Open Sans", "fontSize": 18, "align": "left", "baseline": "alphabetic", "color": "black"},
    "rule": {"color": "black", "strokeWidth": 2}
  }
}
